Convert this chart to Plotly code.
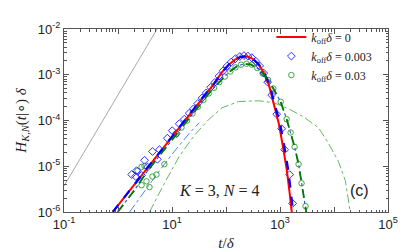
import plotly.graph_objects as go

# ---------------- data ----------------
# reference line (gray, slope ~2)
ref_t = [0.1, 5.3]
ref_H = [3.7e-6, 1.0e-2]

# k_off*delta = 0 theory (red solid)
red_t = [0.798, 1.64, 3.517, 10.15, 20.85, 42.86, 60.15, 84.45, 113.6, 146.5, 188.9, 243.6,
         314.2, 405.2, 500.7, 619.1, 765.0, 945.6, 1120, 1327, 1508, 1641, 1711]
red_H = [1.0e-6, 2.96e-6, 9.19e-6, 4.51e-5, 1.34e-4, 3.95e-4, 6.40e-4, 1.14e-3, 1.68e-3, 2.14e-3,
         2.47e-3, 2.53e-3, 2.24e-3, 1.68e-3, 1.09e-3, 6.10e-4, 2.22e-4, 8.86e-5, 2.92e-5, 8.76e-6,
         2.62e-6, 1.0e-6, 6.8e-7]

# k_off*delta = 0.003 theory (blue dashed)
blu_t = [0.80, 1.64, 3.52, 10.15, 20.85, 42.9, 60.2, 84.5, 113.6, 146.5, 189, 244, 314, 405,
         510, 640, 800, 1000, 1190, 1410, 1600, 1740, 1810]
blu_H = [1.0e-6, 2.96e-6, 9.19e-6, 4.51e-5, 1.34e-4, 3.95e-4, 6.40e-4, 1.14e-3, 1.68e-3, 2.14e-3,
         2.47e-3, 2.53e-3, 2.24e-3, 1.68e-3, 1.09e-3, 6.10e-4, 2.22e-4, 8.86e-5, 2.92e-5, 8.76e-6,
         2.62e-6, 1.0e-6, 6.8e-7]

# k_off*delta = 0.03 theory (dark green dashed)
grn_t = [0.986, 2.03, 3.52, 10.15, 28.05, 55.3, 113.6, 159.5, 214.6, 288.6, 405.2, 568.6, 733.3,
         1029, 1327, 1573, 1863, 2207, 2506, 2970, 3098]
grn_H = [1.0e-6, 3.03e-6, 7.95e-6, 3.90e-5, 1.83e-4, 4.79e-4, 1.14e-3, 1.53e-3, 1.72e-3, 1.68e-3,
         1.32e-3, 8.55e-4, 5.28e-4, 2.56e-4, 1.07e-4, 5.47e-5, 2.65e-5, 1.11e-5, 4.25e-6, 1.34e-6,
         9.1e-7]

# light green dash-dot component
lg_t = [3.83, 7.2, 13.6, 25.8, 48.6, 84.5, 173, 405, 766, 1445, 2729, 5150, 7870, 12000, 16200, 20000]
lg_H = [1.0e-6, 4.2e-6, 1.64e-5, 4.7e-5, 1.07e-4, 1.9e-4, 2.6e-4, 2.7e-4, 2.45e-4, 1.8e-4,
        1.2e-4, 7.0e-5, 3.2e-5, 1.29e-5, 4.9e-6, 1.0e-6]

# light blue dash-dot component
lb_t = [1.64, 3.10, 5.85, 11.0, 20.8, 31.8]
lb_H = [1.0e-6, 2.9e-6, 8.0e-6, 2.1e-5, 5.2e-5, 8.9e-5]

# simulation, k_off*delta = 0.003 (blue diamonds)
dia_t = [1.79, 2.21, 2.12, 2.73, 3.10, 3.52, 4.35, 5.37, 5.85, 8.2, 10.1, 12.0, 13.6, 16.9, 20.8,
         25, 30, 36, 43, 52, 62, 74, 88, 105, 125, 150, 180, 215, 255, 300, 355, 420, 500, 590,
         700, 869, 1074, 1219, 1508, 1711]
dia_H = [6.6e-6, 8.0e-6, 6.0e-6, 6.3e-6, 1.35e-5, 9.6e-6, 2.1e-5, 1.42e-5, 2.3e-5, 4.1e-5, 6.0e-5,
         5.2e-5, 8.5e-5, 1.07e-4, 1.44e-4, 1.80e-4, 2.35e-4, 3.1e-4, 4.0e-4, 5.3e-4, 6.8e-4, 9.3e-4,
         1.22e-3, 1.55e-3, 1.90e-3, 2.25e-3, 2.50e-3, 2.62e-3, 2.55e-3, 2.36e-3, 1.98e-3, 1.56e-3,
         1.09e-3, 6.9e-4, 3.6e-4, 1.37e-4, 6.6e-5, 2.3e-5, 6.56e-6, 1.54e-6]

# simulation, k_off*delta = 0.03 (green circles)
cir_t = [2.30, 2.73, 3.10, 2.73, 3.37, 3.83, 4.35, 5.15, 7.23, 12, 15, 19, 24, 30, 38, 48, 60, 75,
         95, 120, 150, 190, 240, 300, 380, 480, 600, 750, 1029, 1327, 1573, 1863, 2207, 2506, 2970]
cir_H = [7.96e-6, 9.64e-6, 1.01e-5, 3.86e-6, 4.68e-6, 3.51e-6, 5.96e-6, 6.56e-6, 1.11e-5, 5.0e-5,
         7.0e-5, 1.0e-4, 1.42e-4, 1.98e-4, 2.8e-4, 3.9e-4, 5.2e-4, 6.9e-4, 9.1e-4, 1.18e-3, 1.45e-3,
         1.66e-3, 1.74e-3, 1.66e-3, 1.40e-3, 1.06e-3, 7.7e-4, 5.0e-4, 2.56e-4, 1.07e-4, 5.47e-5,
         2.65e-5, 1.11e-5, 4.25e-6, 1.34e-6]

x_tickvals = [0.1, 1, 10, 100, 1e3, 1e4, 1e5]
x_ticktext = ["10<sup>-1</sup>", "", "10<sup>1</sup>", "", "10<sup>3</sup>", "", "10<sup>5</sup>"]
y_tickvals = [1e-6, 1e-5, 1e-4, 1e-3, 1e-2]
y_ticktext = ["10<sup>-6</sup>", "10<sup>-5</sup>", "10<sup>-4</sup>", "10<sup>-3</sup>", "10<sup>-2</sup>"]

leg_labels = ["<i>k</i><sub>off</sub><i>δ</i> = 0",
              "<i>k</i><sub>off</sub><i>δ</i> = 0.003",
              "<i>k</i><sub>off</sub><i>δ</i> = 0.03"]

# ---------------- figure ----------------
fig = go.Figure()
fig.add_trace(go.Scatter(x=ref_t, y=ref_H, mode="lines", line=dict(color="#a8a8a8", width=1),
                         showlegend=False))
fig.add_trace(go.Scatter(x=lg_t, y=lg_H, mode="lines",
                         line=dict(color="#60b860", width=1, dash="dashdot"), showlegend=False))
fig.add_trace(go.Scatter(x=lb_t, y=lb_H, mode="lines",
                         line=dict(color="#5080f0", width=1, dash="dashdot"), showlegend=False))
fig.add_trace(go.Scatter(x=cir_t, y=cir_H, mode="markers", name=leg_labels[2], legendrank=3,
                         marker=dict(symbol="circle-open", size=5.5, color="#2e9a2e",
                                     line=dict(width=0.9))))
fig.add_trace(go.Scatter(x=dia_t, y=dia_H, mode="markers", name=leg_labels[1], legendrank=2,
                         marker=dict(symbol="diamond-open", size=6, color="#1a1aff",
                                     line=dict(width=0.9))))
fig.add_trace(go.Scatter(x=red_t, y=red_H, mode="lines", name=leg_labels[0], legendrank=1,
                         line=dict(color="#ff0000", width=2)))
fig.add_trace(go.Scatter(x=blu_t, y=blu_H, mode="lines", showlegend=False,
                         line=dict(color="#0000ff", width=2.2, dash="dash")))
fig.add_trace(go.Scatter(x=grn_t, y=grn_H, mode="lines", showlegend=False,
                         line=dict(color="#2050c0", width=1.1, dash="dashdot")))
fig.add_trace(go.Scatter(x=grn_t, y=grn_H, mode="lines", showlegend=False,
                         line=dict(color="#007a00", width=1.8, dash="dash")))

minor_vals = [m * 10 ** e for e in range(-1, 5) for m in range(2, 10)]
minor_y = [m * 10 ** e for e in range(-6, -2) for m in range(2, 10)]

axis_common = dict(type="log", showgrid=False, zeroline=False, showline=True, linecolor="#555555",
                   linewidth=1, mirror="allticks", ticks="inside", ticklen=5, tickcolor="#555555",
                   tickfont=dict(family="Liberation Sans, Arial, sans-serif", size=13, color="#222"))

fig.update_xaxes(**axis_common, range=[-1, 5], tickvals=x_tickvals, ticktext=x_ticktext,
                 minor=dict(tickvals=minor_vals, ticks="inside", ticklen=2.5, tickcolor="#555555"),
                 title=dict(text="<i>t</i>/<i>δ</i>", standoff=6,
                            font=dict(family="Liberation Serif, serif", size=15, color="#222")))
fig.update_yaxes(**axis_common, range=[-6, -2], tickvals=y_tickvals, ticktext=y_ticktext,
                 minor=dict(tickvals=minor_y, ticks="inside", ticklen=2.5, tickcolor="#555555"),
                 title=dict(text="<i>H</i><sub><i>K,N</i></sub>(<i>t</i>|∘) <i>δ</i>", standoff=7,
                            font=dict(family="Liberation Serif, serif", size=15, color="#222")))

fig.add_annotation(x=0.478, y=0.06, xref="paper", yref="paper", showarrow=False,
                   text="<i>K</i> = 3, <i>N</i> = 4",
                   font=dict(family="Liberation Serif, serif", size=16, color="#222"))
fig.add_annotation(x=0.946, y=0.06, xref="paper", yref="paper", showarrow=False,
                   text="(c)", font=dict(family="Liberation Sans, Arial, sans-serif", size=16,
                                         color="#222"))

fig.update_layout(
    width=420, height=252,
    margin=dict(l=54, r=40, t=19, b=42),
    plot_bgcolor="white", paper_bgcolor="white",
    legend=dict(x=0.64, y=1.035, xanchor="left", yanchor="top", bgcolor="rgba(0,0,0,0)",
                borderwidth=0, itemwidth=30, tracegroupgap=0,
                font=dict(family="Liberation Serif, serif", size=12, color="#222")),
)

fig.write_html("out.html")
